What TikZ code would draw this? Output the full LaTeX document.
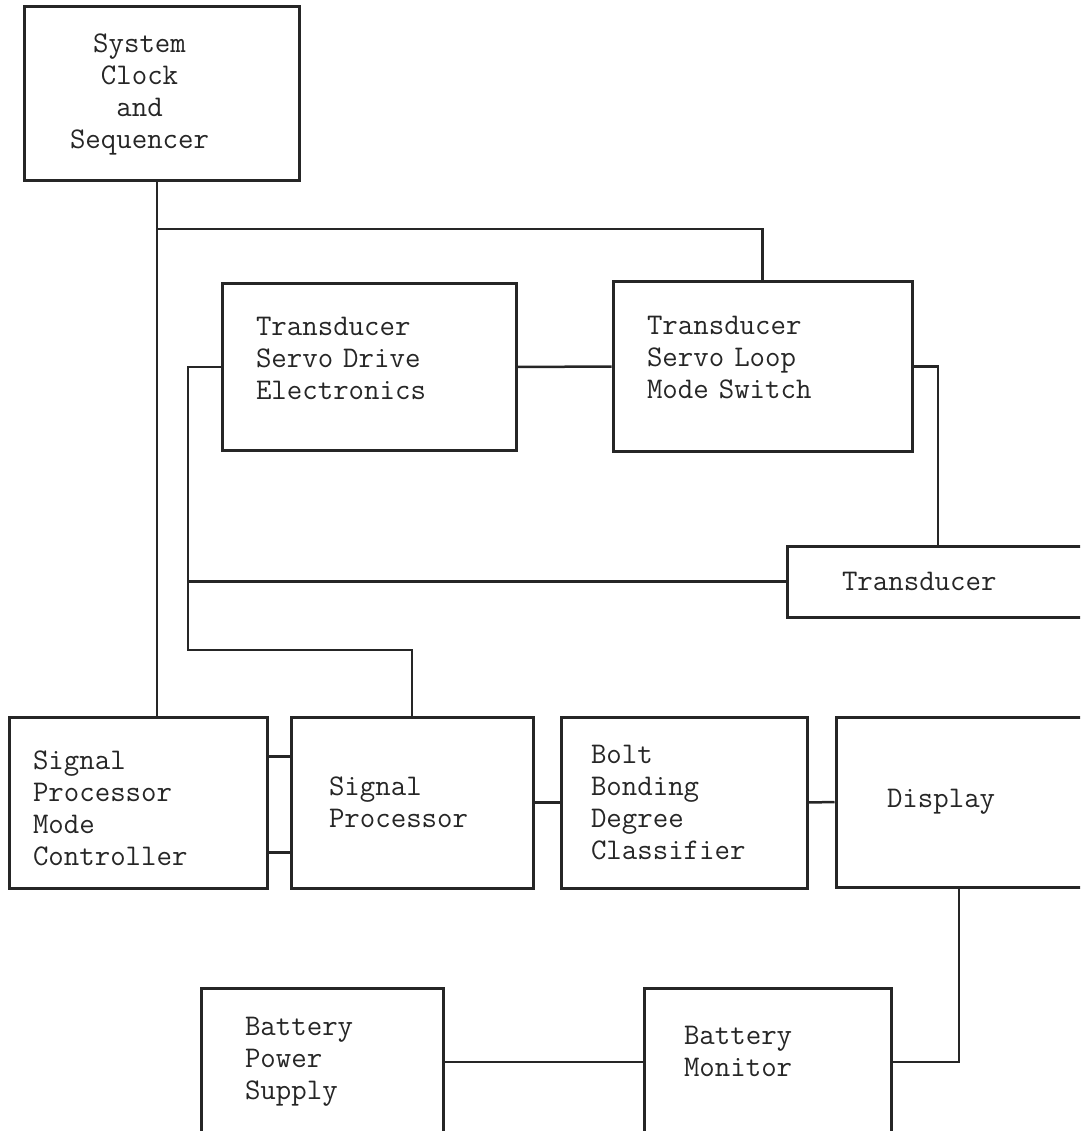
\documentclass[tikz,border=0pt]{standalone}
\usepackage{fontspec}
\usetikzlibrary{calc}
\definecolor{ScanInk}{HTML}{262626}

\begin{document}
\begin{tikzpicture}[
  x=1pt, y=-1pt,
  every node/.style={font=\ttfamily\fontsize{30}{32}\selectfont, text=ScanInk},
  block/.style={draw=ScanInk, line width=3pt, align=left, inner sep=0pt},
  wire/.style={draw=ScanInk, line width=2.5pt}
]
\useasboundingbox (0,0) rectangle (1080,1131);
\clip (0,0) rectangle (1080,1131);

% top row
\node[block, minimum width=275pt, minimum height=174pt, text width=183pt] (clock) at (161.5,94)
  {\begin{tabular}{@{}c@{}}System\\Clock\\and\\Sequencer\end{tabular}};
\node[block, minimum width=294pt, minimum height=166pt, text width=226pt, text depth=82pt] (drive) at (369,367) {Transducer\\Servo Drive\\Electronics};
\node[block, minimum width=299pt, minimum height=169pt, text width=231pt, text depth=82pt] (mode) at (762.5,366.5) {Transducer\\Servo Loop\\Mode Switch};
\node[block, minimum width=302pt, minimum height=71pt, text width=192pt] (xdcr) at (938,581.5) {Transducer};

% processing row
\node[block, minimum width=258pt, minimum height=171pt, text width=210pt, text depth=84pt] (spmc) at (138,802.5) {Signal\\Processor\\Mode\\Controller};
\node[block, minimum width=242pt, minimum height=171pt, text width=166pt] (sp) at (412,802.5) {Signal\\Processor};
\node[block, minimum width=246pt, minimum height=171pt, text width=186pt] (bolt) at (684,802.5) {Bolt\\Bonding\\Degree\\Classifier};
\node[block, minimum width=246pt, minimum height=170pt, text width=144pt] (disp) at (959,802) {Display};

% power row
\node[block, minimum width=242pt, minimum height=148pt, text width=154pt] (bps) at (322,1062) {Battery\\Power\\Supply};
\node[block, minimum width=247pt, minimum height=148pt, text width=167pt, text depth=54pt] (bm) at (767.5,1062) {Battery\\Monitor};

\coordinate (tap) at (157,229);
\coordinate (bend) at (188,650);

\draw[wire] (clock.south -| tap) -- (spmc.north -| tap);
\draw[wire] (tap) -| (mode.north);
\draw[wire] (drive.east) -- (mode.west);
\draw[wire] (drive.west) -| (bend) -| (sp.north);
\draw[wire] (xdcr.west) -- (xdcr.west -| bend);
\draw[wire] (mode.east) -| (xdcr.north);
\draw[wire] ([yshift=46pt]spmc.east) -- ([yshift=46pt]sp.west);
\draw[wire] ([yshift=-50pt]spmc.east) -- ([yshift=-50pt]sp.west);
\draw[wire] (sp.east) -- (bolt.west);
\draw[wire] (bolt.east) -- (disp.west);
\draw[wire] (disp.south) |- (bm.east);
\draw[wire] (bps.east) -- (bm.west);
\end{tikzpicture}
\end{document}
